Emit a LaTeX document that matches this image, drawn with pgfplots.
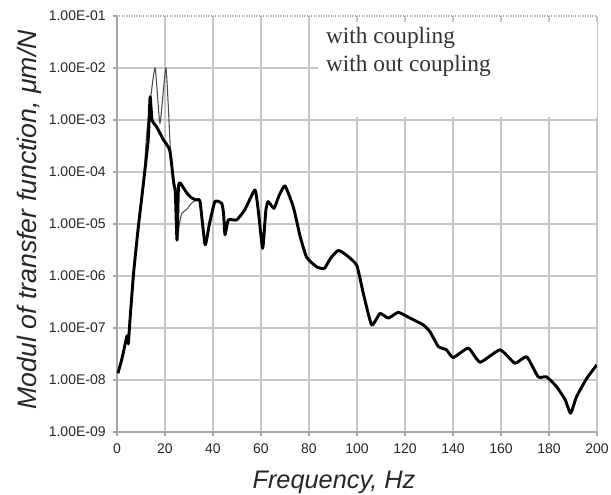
\documentclass[border=0pt]{standalone}
\usepackage{fontspec}
\setmainfont{Liberation Sans}
\newfontfamily\legendfont{Liberation Serif}
\usepackage{pgfplots}
\pgfplotsset{compat=1.18}

% with coupling (thick)
\pgfplotstableread{
x y
0.4 1.35e-8
2 2.5e-8
3.3 4.7e-8
4.2 7.1e-8
4.7 5e-8
5.4 1.4e-7
6.3 5e-7
7 1.26e-6
8.9 8.9e-6
11 6e-5
13 4.2e-4
13.8 2.8e-3
14.6 1e-3
16.5 7.4e-4
19.3 4.2e-4
22 2.6e-4
23.6 6.3e-5
24.3 4e-5
25 4.9e-6
25.6 5e-5
26.3 6.2e-5
29 4e-5
31 3.2e-5
33 2.9e-5
34.6 2.7e-5
36.7 4e-6
38.5 1e-5
40.8 2.7e-5
43.6 2.5e-5
44.4 1.6e-5
45 6.2e-6
46.4 1.2e-5
49.9 1.2e-5
53.3 1.9e-5
57.5 4.5e-5
59 1.6e-5
60.7 3.4e-6
62 1.8e-5
63 2.7e-5
65.4 2e-5
67.5 3.5e-5
70 5.4e-5
73.5 2.1e-5
76.3 5.8e-6
79 2.3e-6
83.2 1.5e-6
86.4 1.4e-6
89 2.2e-6
92.2 3.1e-6
95.7 2.5e-6
99.9 1.6e-6
102.6 4.7e-7
106.1 1.15e-7
109.6 1.9e-7
113.1 1.55e-7
117.2 2e-7
122.1 1.55e-7
127.6 1.15e-7
130.4 8.5e-8
133.9 4.4e-8
137.3 3.8e-8
140.1 2.7e-8
146.4 4.1e-8
151.3 2.2e-8
159.6 3.8e-8
165.8 2.1e-8
170.7 2.8e-8
175.5 1.15e-8
179 1.15e-8
183.2 7.4e-9
186.7 4.2e-9
189 2.3e-9
191.5 4.8e-9
195.7 1.07e-8
199.9 1.95e-8
}\withcoupling

% with out coupling (thin), differs between 12 and 33 Hz
\pgfplotstableread{
x y
0.4 1.35e-8
2 2.5e-8
3.3 4.7e-8
4.2 7.1e-8
4.7 5e-8
5.4 1.4e-7
6.3 5e-7
7 1.26e-6
8.9 8.9e-6
11 6e-5
12.5 6.3e-4
15.8 1e-2
17.9 8.7e-4
20.4 1e-2
22.3 2.5e-4
23.6 6.3e-5
24.3 4e-5
25 4.9e-6
26 1e-5
27 1.6e-5
29 1.9e-5
31 2.5e-5
33 2.9e-5
34.6 2.7e-5
}\withoutcoupling

\begin{document}
\begin{tikzpicture}
\begin{axis}[
  scale only axis,
  width=360pt, height=312pt,
  ymode=log,
  xmin=0, xmax=200, ymin=1e-9, ymax=1e-1,
  xtick={0,20,...,200},
  ytick={1e-9,1e-8,1e-7,1e-6,1e-5,1e-4,1e-3,1e-2},
  yticklabels={1.00E-09,1.00E-08,1.00E-07,1.00E-06,1.00E-05,1.00E-04,1.00E-03,1.00E-02},
  extra y ticks={1e-1},
  extra y tick labels={1.00E-01},
  extra y tick style={grid style={black!35, densely dotted}},
  yminorticks=false,
  hide obscured x ticks=false,
  hide obscured y ticks=false,
  axis x line=bottom, axis y line=left,
  axis line style={-, black!35, line width=0.8pt},
  tick align=outside, major tick length=3pt,
  tick style={black!35, line width=0.8pt},
  grid=major,
  grid style={black!22, line width=0.8pt},
  ticklabel style={font=\fontsize{10.5}{12}\selectfont, text=black!85},
  yticklabel style={xshift=-2pt},
  xticklabel style={yshift=-2pt},
  /pgf/number format/assume math mode=true,
  xlabel={\textit{Frequency, Hz}},
  ylabel={\textit{Modul of transfer function, μm/N}},
  label style={text=black!85},
  xlabel style={font=\fontsize{19}{21}\selectfont, at={(rel axis cs:0.452,0)}, anchor=center, yshift=-38pt},
  ylabel style={font=\fontsize{20}{22}\selectfont, at={(rel axis cs:0,0.51)}, anchor=center, yshift=66pt},
]
\addplot[black!70, line width=0.8pt, smooth, tension=0.3] table[x=x, y=y] {\withoutcoupling};
\addplot[black, line width=2.2pt, line join=round, smooth, tension=0.3] table[x=x, y=y] {\withcoupling};
\fill[white] (rel axis cs:0.419,0.757) rectangle (rel axis cs:1.01,0.985);
\node[anchor=west, font=\legendfont\fontsize{17.5}{21}\selectfont, text=black!80, inner sep=0pt]
  at (rel axis cs:0.435,0.947) {with coupling};
\node[anchor=west, font=\legendfont\fontsize{17.5}{21}\selectfont, text=black!80, inner sep=0pt]
  at (rel axis cs:0.435,0.880) {with out coupling};
\end{axis}
\pgfresetboundingbox
\path ([xshift=-87.75pt,yshift=-47.25pt]current axis.south west)
  rectangle ([xshift=10.5pt,yshift=12pt]current axis.north east);
\end{tikzpicture}
\end{document}
